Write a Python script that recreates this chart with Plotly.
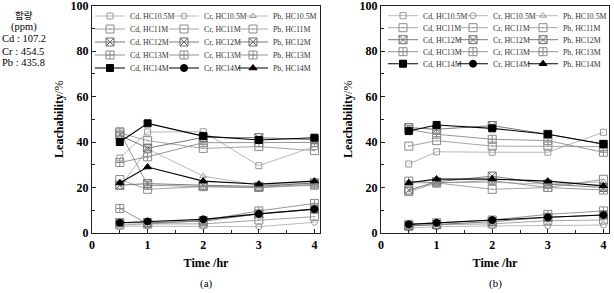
import plotly.graph_objects as go

# ---------------- data ----------------
times = [0.5, 1, 2, 3, 4]
concs = ["HC10.5M", "HC11M", "HC12M", "HC13M", "HC14M"]
metals = ["Cd", "Cr", "Pb"]

# panel (a)
a_cd_105 = [33.0, 44.4, 44.5, 29.6, 38.0]
a_cd_11 = [44.0, 40.6, 37.2, 38.0, 36.2]
a_cd_12 = [43.0, 37.3, 42.0, 41.9, 41.0]
a_cd_13 = [31.0, 33.5, 39.7, 39.7, 39.8]
a_cd_14 = [40.0, 48.2, 42.6, 40.9, 41.9]
a_cr_105 = [3.0, 3.0, 3.0, 2.8, 4.7]
a_cr_11 = [3.5, 4.0, 4.0, 5.7, 7.2]
a_cr_12 = [4.5, 4.5, 5.2, 8.4, 10.5]
a_cr_13 = [10.8, 4.0, 5.5, 9.7, 13.0]
a_cr_14 = [4.5, 5.1, 6.0, 8.4, 10.5]
a_pb_105 = [20.0, 37.0, 25.0, 21.0, 22.0]
a_pb_11 = [23.5, 19.2, 20.4, 20.0, 21.5]
a_pb_12 = [21.0, 21.7, 21.0, 20.5, 22.0]
a_pb_13 = [44.5, 21.0, 20.4, 20.0, 21.0]
a_pb_14 = [22.0, 29.0, 22.8, 21.5, 22.8]

# panel (b)
b_cd_105 = [30.3, 35.7, 35.5, 35.5, 44.3]
b_cd_11 = [38.2, 40.6, 38.2, 38.2, 38.0]
b_cd_12 = [46.3, 45.6, 47.2, 43.4, 39.0]
b_cd_13 = [45.5, 43.4, 41.2, 40.6, 35.5]
b_cd_14 = [44.8, 47.5, 46.0, 43.4, 39.1]
b_cr_105 = [2.2, 2.8, 3.1, 3.2, 3.5]
b_cr_11 = [3.1, 3.7, 4.0, 5.4, 5.7]
b_cr_12 = [3.1, 3.7, 5.0, 6.9, 7.9]
b_cr_13 = [3.8, 4.5, 5.7, 8.2, 9.7]
b_cr_14 = [3.8, 4.5, 5.7, 6.9, 7.9]
b_pb_105 = [22.0, 22.0, 22.3, 21.5, 22.5]
b_pb_11 = [18.2, 22.0, 19.2, 20.0, 23.6]
b_pb_12 = [18.9, 22.5, 25.0, 21.5, 20.0]
b_pb_13 = [22.8, 22.0, 23.0, 20.0, 18.9]
b_pb_14 = [22.1, 23.7, 23.7, 22.8, 20.7]

y_ticks = [0, 20, 40, 60, 80, 100]
x_ticks = [0, 1, 2, 3, 4]
content_lines = ["함량", "(ppm)", "Cd : 107.2", "Cr : 454.5", "Pb : 435.8"]

panel_a = {
    "Cd": [a_cd_105, a_cd_11, a_cd_12, a_cd_13, a_cd_14],
    "Cr": [a_cr_105, a_cr_11, a_cr_12, a_cr_13, a_cr_14],
    "Pb": [a_pb_105, a_pb_11, a_pb_12, a_pb_13, a_pb_14],
}
panel_b = {
    "Cd": [b_cd_105, b_cd_11, b_cd_12, b_cd_13, b_cd_14],
    "Cr": [b_cr_105, b_cr_11, b_cr_12, b_cr_13, b_cr_14],
    "Pb": [b_pb_105, b_pb_11, b_pb_12, b_pb_13, b_pb_14],
}

# ---------------- styles ----------------
W, H = 614, 293
first_sym = {"Cd": "square-open", "Cr": "circle-open", "Pb": "triangle-up-open"}
last_sym = {"Cd": "square", "Cr": "circle", "Pb": "triangle-up"}
mid_sym = ["square-open-dot", "square-x-open", "square-cross-open"]
line_cols = ["#b0b0b0", "#9a9a9a", "#6a6a6a", "#8a8a8a", "#000000"]
mark_cols = ["#9a9a9a", "#8a8a8a", "#6a6a6a", "#8a8a8a", "#000000"]

x_dom_a = [92 / W, 320 / W]
x_dom_b = [381 / W, 609 / W]
y_dom = [1 - 233 / H, 1 - 5.5 / H]

# legend cell placement (pixel positions of legend origin / row centres)
leg_cols = [[90, 164, 233], [383, 453, 523]]
leg_row0 = [16.0, 15.7]
leg_rowstep = [13.0, 12.0]

fig = go.Figure()
serif = "Liberation Serif"

n_leg = 0
for p, (panel, xa, ya) in enumerate([(panel_a, "x", "y"), (panel_b, "x2", "y2")]):
    for ci, c in enumerate(concs):
        for mi, m in enumerate(metals):
            n_leg += 1
            legname = "legend" if n_leg == 1 else f"legend{n_leg}"
            if ci == 0:
                sym, size = first_sym[m], 6
            elif ci == 4:
                sym, size = last_sym[m], 7
            else:
                sym, size = mid_sym[ci - 1], 8
            fig.add_trace(go.Scatter(
                x=times, y=panel[m][ci], xaxis=xa, yaxis=ya,
                mode="lines+markers", name=f"{m}, {c}",
                legend=legname,
                line=dict(color=line_cols[ci], width=1.1 if ci == 4 else 0.9),
                marker=dict(symbol=sym, size=size, color=mark_cols[ci],
                            line=dict(color=mark_cols[ci], width=1)),
            ))
            yc = leg_row0[p] + leg_rowstep[p] * ci
            fig.update_layout({legname: dict(
                x=leg_cols[p][mi] / W, xanchor="left",
                y=1 - yc / H, yanchor="middle",
                orientation="h", itemwidth=30,
                bgcolor="rgba(0,0,0,0)", borderwidth=0,
                font=dict(family=serif, size=7.8, color="#333"),
            )})

axis_common = dict(
    showline=True, linecolor="#222", linewidth=1.2, mirror=True,
    ticks="inside", ticklen=4, tickcolor="#222", showgrid=False, zeroline=False,
    ticklabeloverflow="allow",
    tickfont=dict(family=serif, size=12, color="black", weight="bold"),
)

for xa, ya, dom in [("xaxis", "yaxis", x_dom_a), ("xaxis2", "yaxis2", x_dom_b)]:
    anchor_y = "y" if ya == "yaxis" else "y2"
    anchor_x = "x" if xa == "xaxis" else "x2"
    fig.update_layout({
        xa: dict(axis_common, domain=dom, anchor=anchor_y, range=[0, 4.1],
                 tickvals=x_ticks, minor=dict(dtick=0.5, ticks="inside", ticklen=3, tickcolor="#222"),
                 title=dict(text="<b>Time /hr</b>", font=dict(family=serif, size=12, color="black"), standoff=8)),
        ya: dict(axis_common, domain=y_dom, anchor=anchor_x, range=[0, 100],
                 tickvals=y_ticks, minor=dict(dtick=10, ticks="inside", ticklen=3, tickcolor="#222"),
                 title=dict(text="<b>Leachability</b>/%", font=dict(family=serif, size=12, color="black"), standoff=4)),
    })

annotations = []
for i, t in enumerate(content_lines):
    annotations.append(dict(
        x=24 / W if i < 2 else 0, y=1 - (15 + 12 * i) / H, xref="paper", yref="paper",
        text=t, showarrow=False, xanchor="center" if i < 2 else "left", yanchor="middle",
        font=dict(family="Noto Sans CJK KR" if i == 0 else serif, size=9.5 if i == 0 else 10.5, color="black"),
    ))
for lab, dom in [("(a)", x_dom_a), ("(b)", x_dom_b)]:
    annotations.append(dict(
        x=(dom[0] + dom[1]) / 2, y=1 - 283 / H, xref="paper", yref="paper",
        text=lab, showarrow=False, xanchor="center", yanchor="middle",
        font=dict(family=serif, size=11, color="black"),
    ))

fig.update_layout(
    width=W, height=H, margin=dict(l=0, r=0, t=0, b=0, autoexpand=False),
    paper_bgcolor="white", plot_bgcolor="white",
    showlegend=True, annotations=annotations,
)

fig.write_html("out.html")
